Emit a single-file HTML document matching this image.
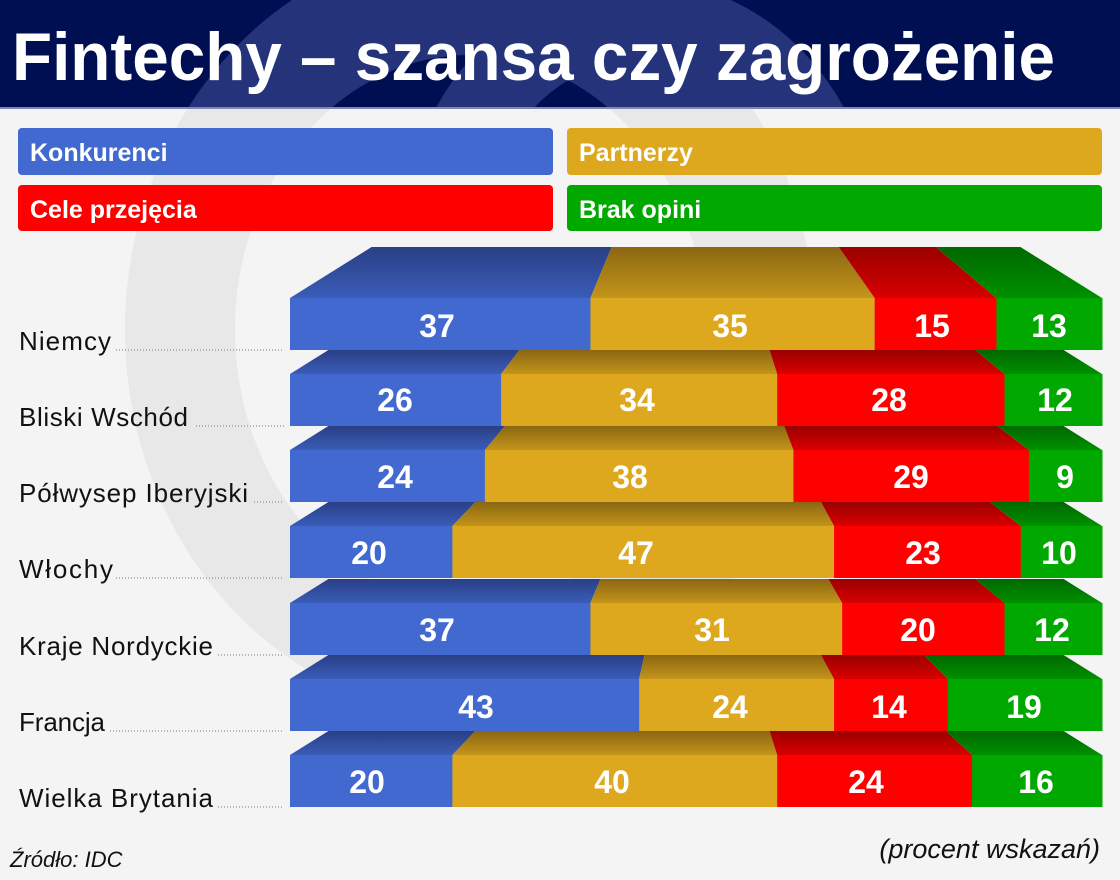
<!DOCTYPE html>
<html><head><meta charset="utf-8"><style>
html,body{margin:0;padding:0;width:1120px;height:880px;overflow:hidden;background:#f4f4f4}
svg{display:block}
text{font-family:"Liberation Sans",sans-serif}
</style></head><body>
<svg id="s" width="1120" height="880" viewBox="0 0 1120 880" xmlns="http://www.w3.org/2000/svg">
<defs>
<linearGradient id="gb" x1="0" y1="0" x2="0" y2="1"><stop offset="0" stop-color="#2a3f85"/><stop offset="1" stop-color="#3a5cb8"/></linearGradient>
<linearGradient id="gy" x1="0" y1="0" x2="0" y2="1"><stop offset="0" stop-color="#8a6612"/><stop offset="1" stop-color="#c4951a"/></linearGradient>
<linearGradient id="gr" x1="0" y1="0" x2="0" y2="1"><stop offset="0" stop-color="#9a0000"/><stop offset="1" stop-color="#d80000"/></linearGradient>
<linearGradient id="gg" x1="0" y1="0" x2="0" y2="1"><stop offset="0" stop-color="#006800"/><stop offset="1" stop-color="#009000"/></linearGradient>
<clipPath id="hc"><rect x="0" y="0" width="1120" height="108"/></clipPath>
</defs>
<rect width="1120" height="880" fill="#f4f4f4"/>
<ellipse cx="470" cy="330" rx="290" ry="330" fill="none" stroke="#e8e8e8" stroke-width="110"/>
<rect x="0" y="0" width="1120" height="108" fill="#000f52"/>
<g clip-path="url(#hc)">
<ellipse cx="470" cy="330" rx="290" ry="330" fill="none" stroke="#25347a" stroke-width="110"/>
<ellipse cx="640" cy="250" rx="200" ry="230" fill="none" stroke="#25347a" stroke-width="80"/>
</g>
<rect x="0" y="107" width="1120" height="2" fill="#8088b0"/>
<text x="12" y="80" font-size="68" font-weight="bold" fill="#fff" textLength="1043" lengthAdjust="spacingAndGlyphs">Fintechy – szansa czy zagrożenie</text>

<rect x="18" y="128" width="535" height="47" rx="4" fill="#4169cf"/>
<rect x="567" y="128" width="535" height="47" rx="4" fill="#dea81e"/>
<rect x="18" y="185" width="535" height="46" rx="4" fill="#ff0000"/>
<rect x="567" y="185" width="535" height="46" rx="4" fill="#00a800"/>
<g font-size="25" fill="#fff" font-weight="bold">
<text x="30" y="161">Konkurenci</text>
<text x="579" y="161">Partnerzy</text>
<text x="30" y="218">Cele przejęcia</text>
<text x="579" y="218">Brak opini</text>
</g>
<g id="bars"></g>
<g font-size="26" fill="#111" lengthAdjust="spacingAndGlyphs">
<text x="19" y="350" textLength="92">Niemcy</text>
<text x="19" y="426" textLength="169">Bliski Wschód</text>
<text x="19" y="502" textLength="229">Półwysep Iberyjski</text>
<text x="19" y="578" textLength="94">Włochy</text>
<text x="19" y="655" textLength="194">Kraje Nordyckie</text>
<text x="19" y="731" textLength="86">Francja</text>
<text x="19" y="807" textLength="194">Wielka Brytania</text>
</g>
<g stroke="#777" stroke-width="1" stroke-dasharray="1,2">
<line x1="116" y1="350" x2="284" y2="350"/>
<line x1="196" y1="426" x2="284" y2="426"/>
<line x1="254" y1="502" x2="284" y2="502"/>
<line x1="116" y1="578" x2="284" y2="578"/>
<line x1="218" y1="655" x2="284" y2="655"/>
<line x1="110" y1="731" x2="284" y2="731"/>
<line x1="218" y1="807" x2="284" y2="807"/>
</g>
<g font-size="32" font-weight="bold" fill="#fff" text-anchor="middle">
<text x="437" y="337">37</text><text x="730" y="337">35</text><text x="932" y="337">15</text><text x="1049" y="337">13</text>
<text x="395" y="411">26</text><text x="637" y="411">34</text><text x="889" y="411">28</text><text x="1055" y="411">12</text>
<text x="395" y="488">24</text><text x="630" y="488">38</text><text x="911" y="488">29</text><text x="1065" y="488">9</text>
<text x="369" y="564">20</text><text x="636" y="564">47</text><text x="923" y="564">23</text><text x="1059" y="564">10</text>
<text x="437" y="641">37</text><text x="712" y="641">31</text><text x="918" y="641">20</text><text x="1052" y="641">12</text>
<text x="476" y="718">43</text><text x="730" y="718">24</text><text x="889" y="718">14</text><text x="1024" y="718">19</text>
<text x="367" y="793">20</text><text x="612" y="793">40</text><text x="866" y="793">24</text><text x="1036" y="793">16</text>
</g>
<text x="10" y="867" font-size="22" font-style="italic" fill="#111">Źródło: IDC</text>
<text x="1100" y="858" font-size="27" font-style="italic" fill="#111" text-anchor="end">(procent wskazań)</text>
</svg>
<script>
(function(){
var data=[[37,35,15,13],[26,34,28,12],[24,38,29,9],[20,47,23,10],[37,31,20,12],[43,24,14,19],[20,40,24,16]];
var ys=[298,374,450,526,603,679,755];
var front=["#4169cf","#dea81e","#ff0000","#00a800"];
var top=["url(#gb)","url(#gy)","url(#gr)","url(#gg)"];
var g=document.getElementById("bars"),h="";
var L=290,W=812,C=696;
for(var r=0;r<7;r++){
  var y=ys[r],th=(r==0?51:24),k=1-(th*1.6)/406;
  var ty=y-th,cum=0;
  for(var i=0;i<4;i++){
    var x0=L+W*cum/100,x1=L+W*(cum+data[r][i])/100;cum+=data[r][i];
    var t0=C+(x0-C)*k,t1=C+(x1-C)*k;
    h+='<polygon points="'+x0+','+y+' '+x1+','+y+' '+t1+','+ty+' '+t0+','+ty+'" fill="'+top[i]+'"/>';
    h+='<rect x="'+x0+'" y="'+y+'" width="'+(x1-x0+0.5)+'" height="52" fill="'+front[i]+'"/>';
  }
}
g.innerHTML=h;
})();
</script>
</body></html>
